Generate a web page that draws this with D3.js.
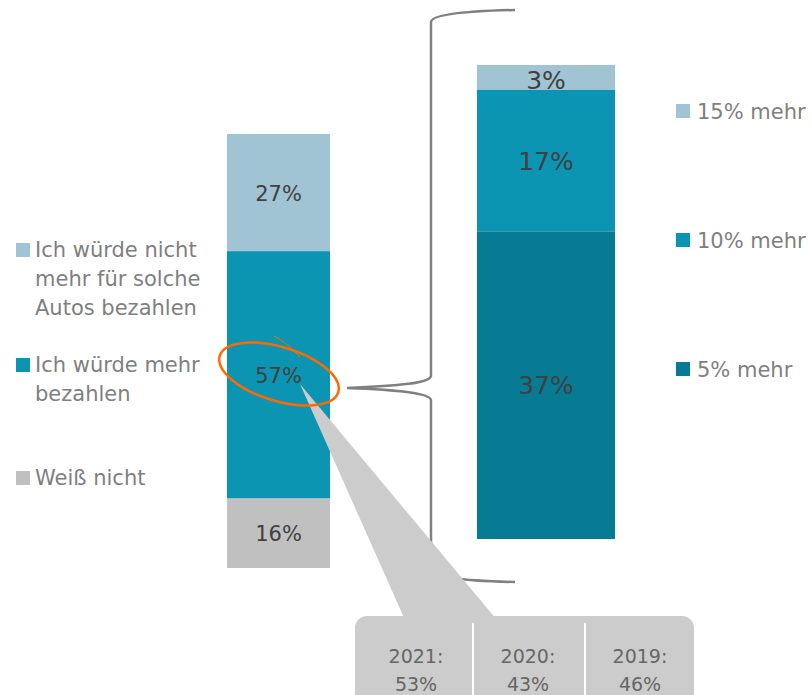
<!DOCTYPE html>
<html>
<head>
<meta charset="utf-8">
<script src="https://cdn.jsdelivr.net/npm/d3@7"></script>
<style>
  body { margin: 0; background: #fff; }
  svg { display: block; font-family: "DejaVu Sans", Verdana, sans-serif; }
</style>
</head>
<body>
<svg id="chart" width="812" height="695"></svg>
<script>
// data
var mainCategories = ["Ich würde nicht mehr für solche Autos bezahlen", "Ich würde mehr bezahlen", "Weiß nicht"];
var mainValues = [27, 57, 16];
var detailCategories = ["15% mehr", "10% mehr", "5% mehr"];
var detailValues = [3, 17, 37];
var years = ["2021", "2020", "2019"];
var yearValues = [53, 43, 46];

var mainColors = ["#a0c4d3", "#0b95b2", "#c0c0c0"];
var detailColors = ["#a0c4d3", "#0b95b2", "#077b93"];

var svg = d3.select("#chart");

// stack helper: segments listed top to bottom
function stackTop(values) {
  var out = [], acc = d3.sum(values);
  values.forEach(function(v, i) {
    out.push({ i: i, v: v, y1: acc, y0: acc - v });
    acc -= v;
  });
  return out;
}

var yLeft = d3.scaleLinear().domain([0, d3.sum(mainValues)]).range([568, 134]);
var yRight = d3.scaleLinear().domain([0, d3.sum(detailValues)]).range([539, 65]);

var leftSegs = stackTop(mainValues);
var rightSegs = stackTop(detailValues);

// left bar
var gl = svg.append("g");
gl.selectAll("rect").data(leftSegs).enter().append("rect")
  .attr("x", 227)
  .attr("width", 103)
  .attr("y", function(d) { return yLeft(d.y1); })
  .attr("height", function(d) { return yLeft(d.y0) - yLeft(d.y1); })
  .attr("fill", function(d) { return mainColors[d.i]; });

// right bar
var gr = svg.append("g");
gr.selectAll("rect").data(rightSegs).enter().append("rect")
  .attr("x", 477)
  .attr("width", 138)
  .attr("y", function(d) { return yRight(d.y1); })
  .attr("height", function(d) { return yRight(d.y0) - yRight(d.y1); })
  .attr("fill", function(d) { return detailColors[d.i]; });

// bracket
svg.append("path")
  .attr("d", "M515,10 C470,11 432,14 431,22 L431,376 C430,383 400,386 347,388 C400,390 430,393 431,400 L431,570 C432,578 470,581 515,582")
  .attr("fill", "none")
  .attr("stroke", "#808080")
  .attr("stroke-width", 2.5);

// callout
svg.append("path")
  .attr("d", "M300,384 L405,620 L497,620 Z")
  .attr("fill", "#cccccc");
svg.append("rect")
  .attr("x", 355).attr("y", 616)
  .attr("width", 339).attr("height", 110)
  .attr("rx", 12)
  .attr("fill", "#cccccc");

var xYears = d3.scalePoint().domain(years).range([416, 640]);
svg.selectAll(".div").data(years.slice(1)).enter().append("line")
  .attr("class", "div")
  .attr("x1", function(d) { return xYears(d) - 55; })
  .attr("x2", function(d) { return xYears(d) - 55; })
  .attr("y1", 623).attr("y2", 695)
  .attr("stroke", "#fff").attr("stroke-width", 2);

var yt = svg.selectAll(".yt").data(years).enter().append("text")
  .attr("class", "yt")
  .attr("x", function(d) { return xYears(d); })
  .attr("text-anchor", "middle")
  .attr("fill", "#666")
  .style("font-size", "19px");
yt.append("tspan").attr("x", function(d) { return xYears(d); }).attr("y", 663)
  .text(function(d) { return d + ":"; });
yt.append("tspan").attr("x", function(d) { return xYears(d); }).attr("y", 691)
  .text(function(d, i) { return yearValues[i] + "%"; });

// bar labels
gl.selectAll("text").data(leftSegs).enter().append("text")
  .attr("x", 278.5)
  .attr("y", function(d) { return (yLeft(d.y1) + yLeft(d.y0)) / 2 + 8; })
  .attr("text-anchor", "middle")
  .attr("fill", "#404040")
  .style("font-size", "21px")
  .text(function(d) { return d.v + "%"; });

gr.selectAll("text").data(rightSegs).enter().append("text")
  .attr("x", 546)
  .attr("y", function(d) { return Math.max((yRight(d.y1) + yRight(d.y0)) / 2 + 9, yRight(d.y1) + 24); })
  .attr("text-anchor", "middle")
  .attr("fill", "#404040")
  .style("font-size", "25px")
  .text(function(d) { return d.v + "%"; });

// orange highlight
svg.append("ellipse")
  .attr("cx", 279).attr("cy", 374)
  .attr("rx", 62).attr("ry", 27)
  .attr("transform", "rotate(17,279,374)")
  .attr("fill", "none")
  .attr("stroke", "#ff6a00")
  .attr("stroke-width", 2.5);
svg.append("path")
  .attr("d", "M300,357 C292,349 284,341 274,336")
  .attr("fill", "none")
  .attr("stroke", "#ff6a00")
  .attr("stroke-width", 1);

// left legend
var leftLegendY = [257, 372, 485];
function wrap(sel, width) {
  sel.each(function() {
    var text = d3.select(this), words = text.text().split(" "), line = [];
    var x = text.attr("x"), y = +text.attr("y"), n = 0;
    text.text(null);
    var ts = text.append("tspan").attr("x", x).attr("y", y);
    words.forEach(function(w) {
      line.push(w);
      ts.text(line.join(" "));
      if (ts.node().getComputedTextLength() > width && line.length > 1) {
        line.pop();
        ts.text(line.join(" "));
        line = [w];
        n++;
        ts = text.append("tspan").attr("x", x).attr("y", y + n * 29).text(w);
      }
    });
  });
}
var ll = svg.selectAll(".ll").data(mainCategories).enter().append("g").attr("class", "ll");
ll.append("rect")
  .attr("x", 16).attr("width", 14).attr("height", 14)
  .attr("y", function(d, i) { return leftLegendY[i] - 14; })
  .attr("fill", function(d, i) { return mainColors[i]; });
ll.append("text")
  .attr("x", 35)
  .attr("y", function(d, i) { return leftLegendY[i]; })
  .attr("fill", "#7f7f7f")
  .style("font-size", "21px")
  .text(function(d) { return d; })
  .call(wrap, 180);

// right legend
var rightLegendY = [119, 248, 377];
var rl = svg.selectAll(".rl").data(detailCategories).enter().append("g").attr("class", "rl");
rl.append("rect")
  .attr("x", 676).attr("width", 14).attr("height", 14)
  .attr("y", function(d, i) { return rightLegendY[i] - 15; })
  .attr("fill", function(d, i) { return detailColors[i]; });
rl.append("text")
  .attr("x", 697)
  .attr("y", function(d, i) { return rightLegendY[i]; })
  .attr("fill", "#7f7f7f")
  .style("font-size", "21px")
  .text(function(d) { return d; });
</script>
</body>
</html>
